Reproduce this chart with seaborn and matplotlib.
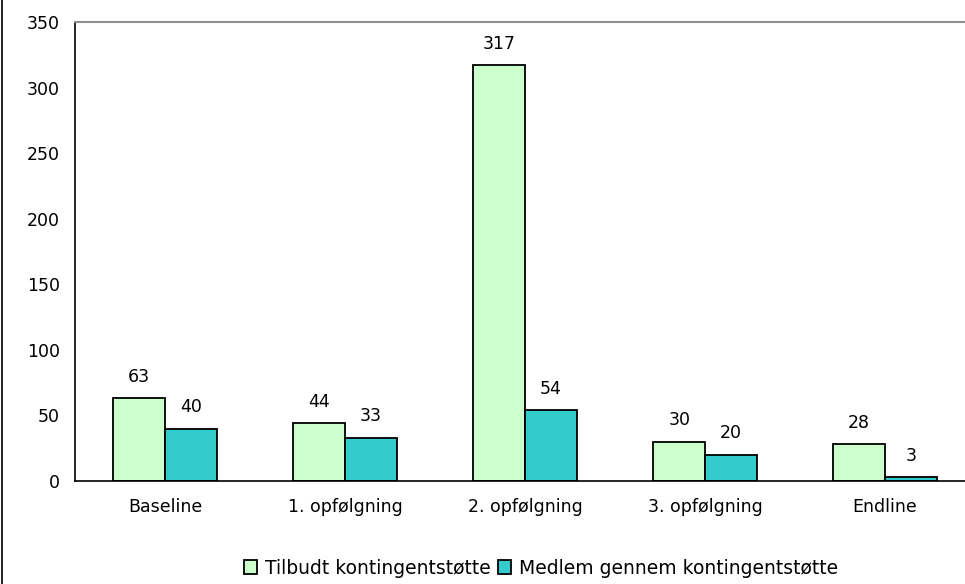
import matplotlib
matplotlib.use("Agg")
import matplotlib.pyplot as plt
import pandas as pd
import seaborn as sns
from matplotlib.lines import Line2D

categories = ["Baseline", "1. opfølgning", "2. opfølgning", "3. opfølgning", "Endline"]
series_names = ["Tilbudt kontingentstøtte", "Medlem gennem kontingentstøtte"]
tilbudt = [63, 44, 317, 30, 28]
medlem = [40, 33, 54, 20, 3]
yticks = [0, 50, 100, 150, 200, 250, 300, 350]

rows = []
for cat, a, b in zip(categories, tilbudt, medlem):
    rows.append({"periode": cat, "serie": series_names[0], "antal": a})
    rows.append({"periode": cat, "serie": series_names[1], "antal": b})
df = pd.DataFrame(rows)

sns.set_style("white")
plt.rcParams["font.family"] = ["DejaVu Sans"]
plt.rcParams["text.color"] = "black"
plt.rcParams["xtick.color"] = "black"
plt.rcParams["ytick.color"] = "black"

fig = plt.figure(figsize=(9.65, 5.84), dpi=100)
ax = fig.add_axes([75 / 965, 1 - 481 / 584, 900 / 965, (481 - 22) / 584])

sns.barplot(
    data=df,
    x="periode",
    y="antal",
    hue="serie",
    order=categories,
    hue_order=series_names,
    palette=["#CCFFCC", "#33CCCC"],
    width=0.573,
    edgecolor="black",
    linewidth=1.3,
    saturation=1,
    ax=ax,
)

for container in ax.containers:
    ax.bar_label(container, padding=9, fontsize=12.5, color="black")

ax.set_ylim(0, 350)
ax.set_xlim(-0.5, 4.5)
ax.set_yticks(yticks)
ax.set_xlabel("")
ax.set_ylabel("")
ax.set_xticks([i - 0.5 for i in range(6)], minor=True)
ax.set_xticks(range(len(categories)))
ax.set_xticklabels(categories)
ax.tick_params(axis="x", which="major", length=0, pad=12, labelsize=12.5)
ax.tick_params(axis="x", which="minor", length=5, width=1, direction="out", color="#404040")
ax.tick_params(axis="y", length=6, width=1, direction="out", color="#404040", labelsize=12.5, pad=5)
for side in ["left", "bottom"]:
    ax.spines[side].set_color("black")
    ax.spines[side].set_linewidth(1.2)
ax.spines["top"].set_color("#909090")
ax.spines["top"].set_linewidth(1.5)
ax.spines["right"].set_visible(False)

handles, labels = ax.get_legend_handles_labels()
ax.legend_.remove()
fig.legend(
    handles,
    labels,
    loc="center",
    bbox_to_anchor=(541 / 965, 1 - 568 / 584),
    ncol=2,
    frameon=False,
    fontsize=13.5,
    handlelength=0.7,
    handleheight=0.7,
    handletextpad=0.4,
    columnspacing=0.4,
)

fig.add_artist(Line2D([1.5 / 965, 1.5 / 965], [0, 1], color="black", linewidth=1.2, transform=fig.transFigure))

fig.savefig("out.png", dpi=100)
plt.close(fig)
